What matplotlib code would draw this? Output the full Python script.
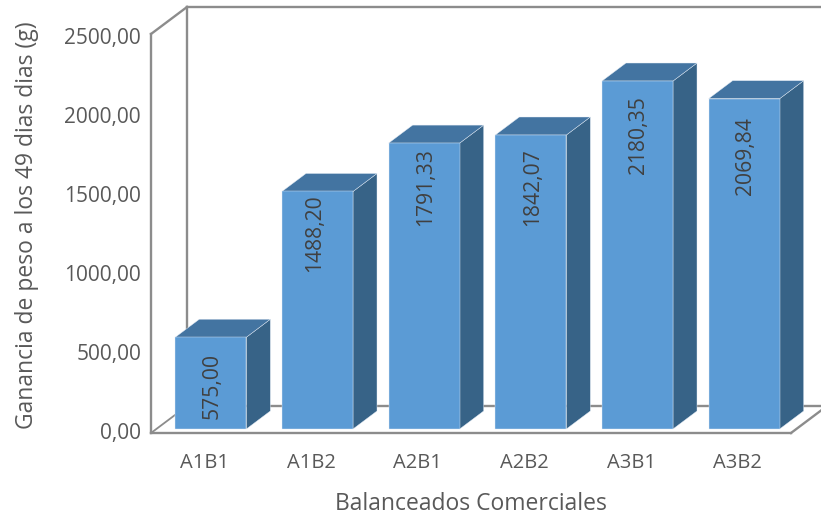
import matplotlib
matplotlib.use("Agg")
import matplotlib.pyplot as plt
from matplotlib.patches import Polygon

plt.rcParams['font.family'] = ['Open Sans', 'DejaVu Sans']

categories = ["A1B1", "A1B2", "A2B1", "A2B2", "A3B1", "A3B2"]
values = [575.00, 1488.20, 1791.33, 1842.07, 2180.35, 2069.84]
y_ticks = [0, 500, 1000, 1500, 2000, 2500]

W, H = 821, 518
# front plane of the 3D box, in pixels
left, right, bottom, top = 151, 791, 433, 34

# hand placed data labels: gap below the bar top and sideways nudge, in pixels
label_gap = [16, 3, 5, 13, 15, 18]
label_nudge = [1.5, -3, 1, 1.5, 1, 1]

fig = plt.figure(figsize=(W/100, H/100), dpi=100)
ax = fig.add_axes([left/W, 1-bottom/H, (right-left)/W, (bottom-top)/H])
ax.set_xlim(-0.5, 5.5)
ax.set_ylim(0, 2500)
ax.axis("off")

# pixels to data units
ux = 6.0/(right-left)
uy = 2500.0/(bottom-top)

# wall and floor outline
grey = "#8c8c8c"
wall_dx, wall_dy = 36*ux, 27*uy
line = dict(color=grey, lw=1.7, clip_on=False, solid_capstyle="projecting")
ax.plot([-0.5, -0.5], [0, 2500], **line)
ax.plot([-0.5, 5.5], [0, 0], **line)
ax.plot([-0.5+wall_dx, -0.5+wall_dx], [wall_dy, 2500+wall_dy], **line)
ax.plot([-0.5, -0.5+wall_dx], [2500, 2500+wall_dy], **line)
ax.plot([-0.5+wall_dx, 5.5+wall_dx], [2500+wall_dy, 2500+wall_dy], **line)
ax.plot([-0.5+wall_dx, 5.5+wall_dx], [wall_dy, wall_dy], **line)
ax.plot([-0.5, -0.5+wall_dx], [0, wall_dy], color=grey, lw=1.3, clip_on=False)
ax.plot([5.5, 5.5+wall_dx], [0, wall_dy], **line)

# bars: front, top and side faces
bar_w = 71*ux
shift_x = 6.5*ux
base = 4*uy
dx, dy = 24*ux, 18*uy
edge = dict(edgecolor="#e3ecf6", linewidth=0.3, clip_on=False)
for i, v in enumerate(values):
    x0 = i - bar_w/2 + shift_x
    x1 = i + bar_w/2 + shift_x
    y0 = base
    y1 = base + v
    ax.add_patch(Polygon([(x1, y0), (x1+dx, y0+dy), (x1+dx, y1+dy), (x1, y1)],
                         facecolor="#376387", zorder=3, **edge))
    ax.add_patch(Polygon([(x0, y1), (x0+dx, y1+dy), (x1+dx, y1+dy), (x1, y1)],
                         facecolor="#4374a1", zorder=3, **edge))
    ax.add_patch(Polygon([(x0, y0), (x1, y0), (x1, y1), (x0, y1)],
                         facecolor="#5b9bd5", zorder=4, **edge))
    ax.text(i + shift_x + label_nudge[i]*ux, y1 - label_gap[i]*uy,
            f"{v:.2f}".replace(".", ","), rotation=90,
            ha="center", va="top", fontsize=15.2, color="#404040", zorder=5)

# tick labels sit on a slightly tighter scale than the front plane
for t in y_ticks:
    ax.text(-0.5 - 10*ux, t*0.99 - 1*uy, f"{t:.2f}".replace(".", ","), ha="right", va="center",
            fontsize=15, color="#595959", clip_on=False)
for i, c in enumerate(categories):
    ax.text(i, -30*uy, c, ha="center", va="center", fontsize=14.5, color="#595959",
            clip_on=False)

fig.text(471/W, 1-504/H, "Balanceados Comerciales", ha="center", va="center",
         fontsize=16.5, color="#595959")
fig.text(27/W, 1-225/H, "Ganancia de peso a los 49 dias dias (g)", rotation=90,
         ha="center", va="center", fontsize=16.5, color="#595959")

fig.savefig("out.png", dpi=100)
